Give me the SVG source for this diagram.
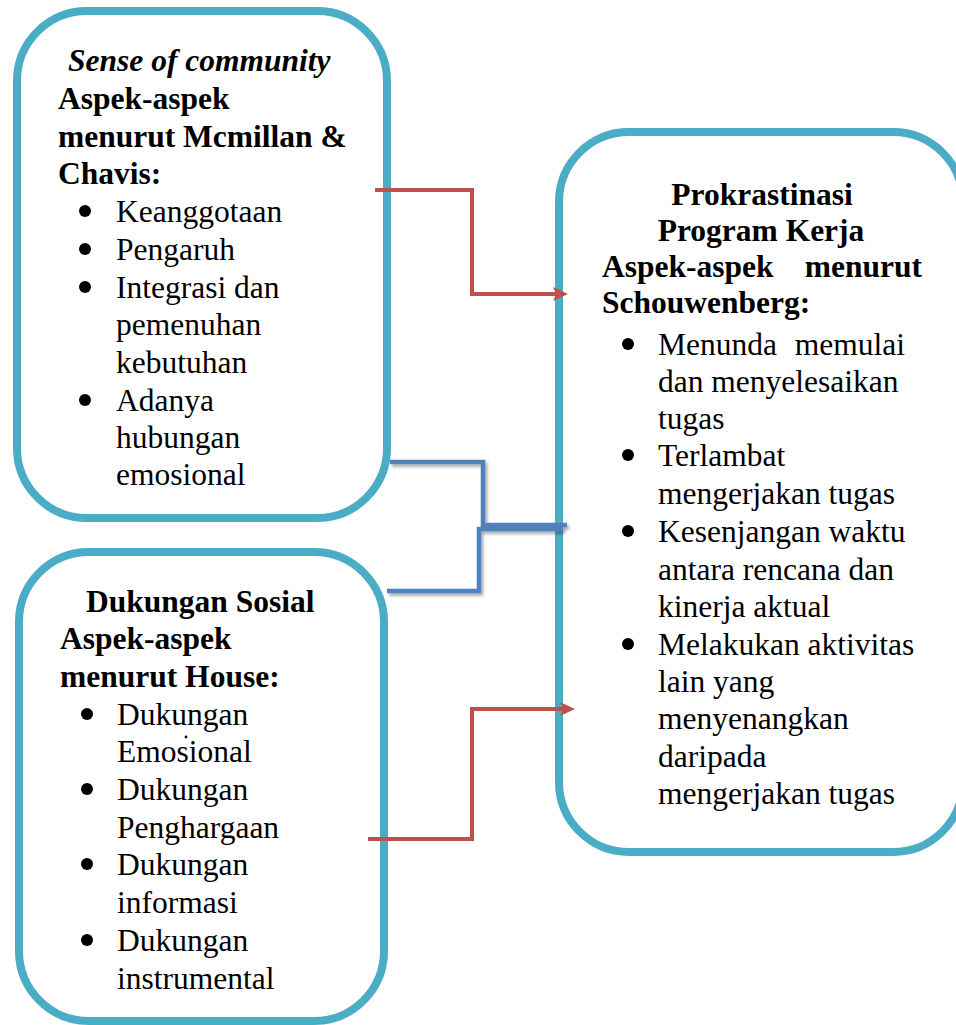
<svg xmlns="http://www.w3.org/2000/svg" width="956" height="1025" viewBox="0 0 956 1025">
<style>
.box{fill:#fff;stroke:#4BACC6;stroke-width:8}
text{font-family:"Liberation Serif","Times New Roman",serif;font-size:31.5px;fill:#000}
.b{font-weight:bold}
.bi{font-weight:bold;font-style:italic}
.bul{fill:#000}
.red{fill:none;stroke:#C0504D;stroke-width:4}
.blue{fill:none;stroke:#4F81BD;stroke-width:4.5;filter:url(#sh)}
</style>
<defs>
<marker id="ar" markerUnits="userSpaceOnUse" markerWidth="16" markerHeight="15" refX="5" refY="7" orient="auto">
<path d="M0,0 L15,7 L0,14 L3,7 z" fill="#C0504D"/>
</marker>
<filter id="sh" x="-10%" y="-10%" width="130%" height="130%">
<feDropShadow dx="2" dy="2.5" stdDeviation="1.5" flood-color="#000" flood-opacity="0.35"/>
</filter>
</defs>

<g id="node-sense">
<rect class="box" x="17" y="11" width="370" height="507" rx="70" ry="70"/>
<text class="bi" x="68" y="71">Sense of community</text>
<text class="b" x="58" y="109">Aspek-aspek</text>
<text class="b" x="58" y="147">menurut Mcmillan &amp;</text>
<text class="b" x="58" y="184">Chavis:</text>
<circle class="bul" cx="85" cy="211" r="6"/>
<circle class="bul" cx="85" cy="249" r="6"/>
<circle class="bul" cx="85" cy="287" r="6"/>
<circle class="bul" cx="85" cy="400" r="6"/>
<text x="116" y="222">Keanggotaan</text>
<text x="116" y="260">Pengaruh</text>
<text x="116" y="298">Integrasi dan</text>
<text x="116" y="335">pemenuhan</text>
<text x="116" y="373">kebutuhan</text>
<text x="116" y="411">Adanya</text>
<text x="116" y="448">hubungan</text>
<text x="116" y="485">emosional</text>
</g>

<g id="node-dukungan">
<rect class="box" x="19" y="552" width="365" height="469" rx="70" ry="70"/>
<text class="b" x="86" y="612">Dukungan Sosial</text>
<text class="b" x="60" y="649">Aspek-aspek</text>
<text class="b" x="60" y="687">menurut House:</text>
<circle class="bul" cx="87" cy="714" r="6"/>
<circle class="bul" cx="87" cy="789" r="6"/>
<circle class="bul" cx="87" cy="864" r="6"/>
<circle class="bul" cx="87" cy="940" r="6"/>
<text x="117" y="725">Dukungan</text>
<text x="117" y="762">Emosional</text>
<circle class="bul" cx="186" cy="737" r="1.4"/>
<text x="117" y="800">Dukungan</text>
<text x="117" y="838">Penghargaan</text>
<text x="117" y="875">Dukungan</text>
<text x="117" y="913">informasi</text>
<text x="117" y="951">Dukungan</text>
<text x="117" y="989">instrumental</text>
</g>

<g id="node-prokrastinasi">
<rect class="box" x="559" y="132" width="404" height="720" rx="70" ry="70"/>
<text class="b" x="762" y="205" text-anchor="middle">Prokrastinasi</text>
<text class="b" x="761" y="241" text-anchor="middle">Program Kerja</text>
<text class="b" x="602" y="277">Aspek-aspek</text>
<text class="b" x="922" y="277" text-anchor="end">menurut</text>
<text class="b" x="602" y="313">Schouwenberg:</text>
<circle class="bul" cx="628" cy="344" r="6"/>
<circle class="bul" cx="628" cy="455" r="6"/>
<circle class="bul" cx="628" cy="531" r="6"/>
<circle class="bul" cx="628" cy="644" r="6"/>
<text x="658" y="355">Menunda</text>
<text x="905" y="355" text-anchor="end">memulai</text>
<text x="658" y="392">dan menyelesaikan</text>
<text x="658" y="429">tugas</text>
<text x="658" y="466">Terlambat</text>
<text x="658" y="504">mengerjakan tugas</text>
<text x="658" y="542">Kesenjangan waktu</text>
<text x="658" y="580">antara rencana dan</text>
<text x="658" y="617">kinerja aktual</text>
<text x="658" y="655">Melakukan aktivitas</text>
<text x="658" y="692">lain yang</text>
<text x="658" y="729">menyenangkan</text>
<text x="658" y="767">daripada</text>
<text x="658" y="804">mengerjakan tugas</text>
</g>

<g id="connectors">
<path class="red" d="M375,190 H472 V294 H558" marker-end="url(#ar)"/>
<path class="red" d="M368,839 H472 V709 H565" marker-end="url(#ar)"/>
<path class="blue" d="M390,462 H483 V525 H567"/>
<path class="blue" d="M387,591 H479 V529 H563"/>
</g>
</svg>
